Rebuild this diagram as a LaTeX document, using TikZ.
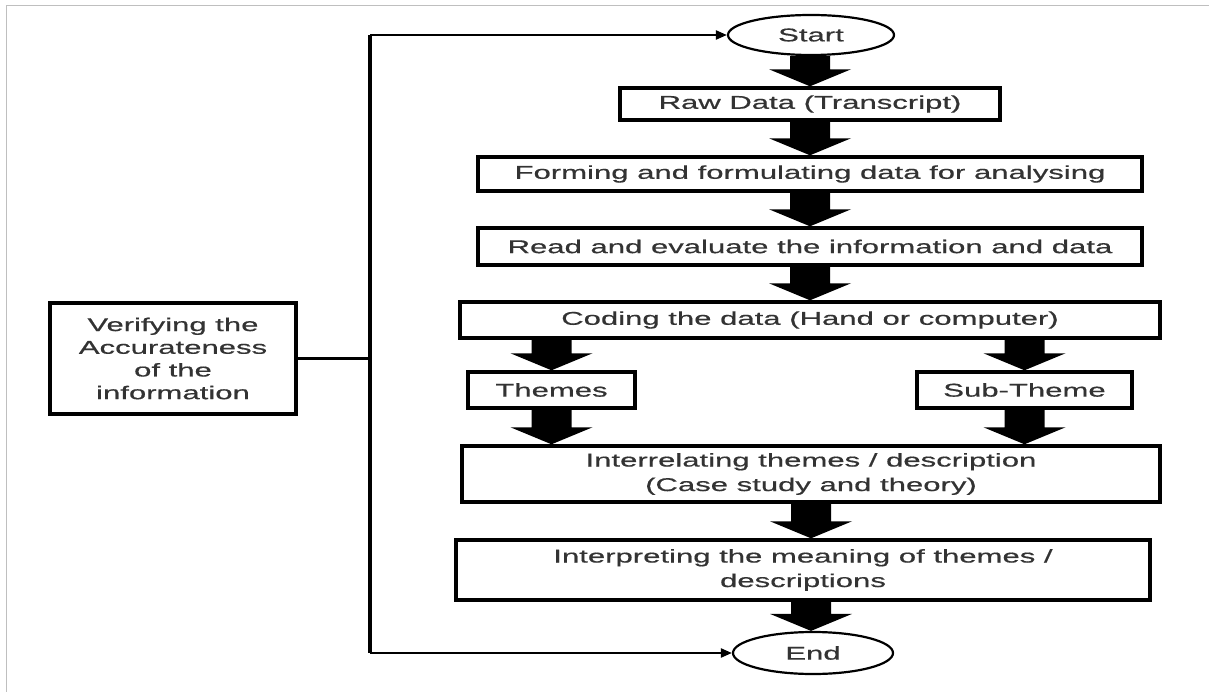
\documentclass[tikz,border=0pt]{standalone}
\usepackage{fontspec}
\setmainfont{Liberation Sans}[FakeStretch=1.68,FakeBold=0.6]
\usetikzlibrary{shapes.geometric,arrows.meta,calc}
\newcommand\barrow[2]{\fill[black] let \p1=(#1), \p2=(#2) in
  (\x1-20pt,\y1) -- (\x1+20pt,\y1) -- (\x1+20pt,\y2+17pt) -- (\x1+41pt,\y2+17pt)
  -- (\x1,\y2) -- (\x1-41pt,\y2+17pt) -- (\x1-20pt,\y2+17pt) -- cycle;}
\begin{document}
\begin{tikzpicture}[x=1pt,y=-1pt,
  every node/.style={text=black!80, font=\fontsize{18.5}{24.5}\selectfont},
  box/.style={draw=black, line width=3.4pt, rectangle, inner sep=0pt, align=center},
  term/.style={draw=black, line width=2.2pt, ellipse, inner sep=0pt, minimum width=166, minimum height=40},
  thinarrow/.style={line width=2.2pt, -{Triangle[length=11pt,width=9pt]}},
  loopline/.style={line width=3.2pt}]
\useasboundingbox (0,0) rectangle (1209,692);
\draw[black!25, line width=1pt] (6,692) -- (6,6) -- (1209,6);

\node[term] (start) at (811,35) {Start};
\node[box, minimum width=380, minimum height=32] (raw) at (810,104) {Raw Data (Transcript)};
\node[box, minimum width=664, minimum height=34] (form) at (810,174) {Forming and formulating data for analysing};
\node[box, minimum width=664, minimum height=37] (read) at (810,246.5) {Read and evaluate the information and data};
\node[box, minimum width=700, minimum height=36] (coding) at (810,320) {Coding the data (Hand or computer)};
\node[box, minimum width=167, minimum height=36] (themes) at (551.5,390) {Themes};
\node[box, minimum width=215, minimum height=36] (sub) at (1024.5,390) {Sub-Theme};
\node[box, minimum width=698, minimum height=56] (inter) at (811,474) {Interrelating themes / description\\(Case study and theory)};
\node[box, minimum width=694, minimum height=60] (interp) at (803,570) {Interpreting the meaning of themes /\\descriptions};
\node[term, minimum width=160, minimum height=42] (end) at (813,653) {End};
\node[box, minimum width=246, minimum height=111, font=\fontsize{18.5}{22.7}\selectfont] (verify) at (173,358.5) {Verifying the\\Accurateness\\of the\\information};

\barrow{start.south -| raw.north}{raw.north}
\barrow{raw.south}{form.north}
\barrow{form.south}{read.north}
\barrow{read.south}{coding.north}
\barrow{coding.south -| themes.north}{themes.north}
\barrow{coding.south -| sub.north}{sub.north}
\barrow{themes.south}{inter.north}
\barrow{sub.south}{inter.north}
\barrow{inter.south}{interp.north}
\barrow{interp.south -| inter.south}{end.north}

\coordinate (tl) at (370,35);
\coordinate (bl) at (370,653);
\draw[loopline] (tl) -- (bl);
\draw[line width=2.2pt] (verify.east) -- (verify.east -| tl);
\draw[thinarrow] (tl) -- (start.west);
\draw[thinarrow] (bl) -- (end.west);
\end{tikzpicture}
\end{document}
